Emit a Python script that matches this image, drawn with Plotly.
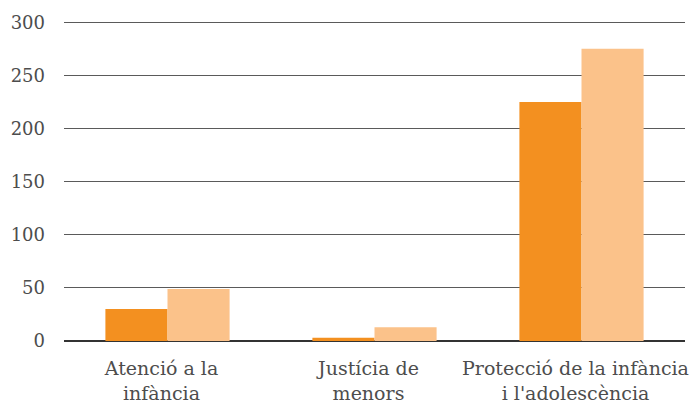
import plotly.graph_objects as go

categories = ["Atenció a la<br>infància", "Justícia de<br>menors", "Protecció de la infància<br>i l'adolescència"]
series_a = [30, 3, 225]
series_b = [49, 13, 275]
y_ticks = [0, 50, 100, 150, 200, 250, 300]

fig = go.Figure()
fig.add_trace(go.Bar(x=categories, y=series_a, marker=dict(color="#F39020", line=dict(width=0)), name="A"))
fig.add_trace(go.Bar(x=categories, y=series_b, marker=dict(color="#FBC28A", line=dict(width=0)), name="B"))

font_family = "DejaVu Serif, serif"
fig.update_layout(
    width=689, height=396,
    margin=dict(l=56, r=12, t=11, b=63),
    barmode="group", bargap=0.4, bargroupgap=0,
    plot_bgcolor="white", paper_bgcolor="white",
    showlegend=False,
    font=dict(family=font_family, size=18, color="#4d4d4d"),
    xaxis=dict(showgrid=False, showline=False, ticks="", automargin=False,
               ticklabelstandoff=14, ticklabelshift=-6, tickfont=dict(size=19)),
    yaxis=dict(range=[0, 303], tickvals=y_ticks, showgrid=True, gridcolor="#5a5a5a", gridwidth=1,
               zeroline=True, zerolinecolor="#333333", zerolinewidth=1.5, ticks="", automargin=False,
               ticklabelstandoff=18, tickfont=dict(size=18)),
)
fig.write_html("out.html")
